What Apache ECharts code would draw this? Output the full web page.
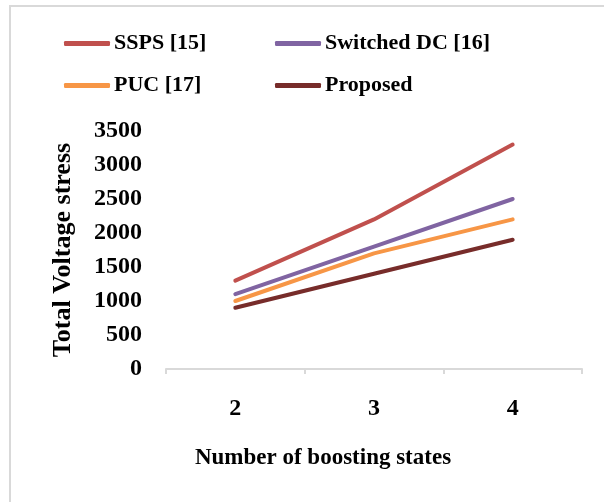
<!DOCTYPE html>
<html>
<head>
<meta charset="utf-8">
<script src="https://cdn.jsdelivr.net/npm/echarts@6/dist/echarts.min.js"></script>
<style>
html,body{margin:0;padding:0;background:#fff;}
#chart{width:604px;height:502px;}
</style>
</head>
<body>
<div id="chart"></div>
<script>
const categories = ['2', '3', '4'];
const ssps = [1300, 2200, 3300];
const switchedDC = [1100, 1800, 2500];
const puc = [1000, 1700, 2200];
const proposed = [900, 1400, 1900];
const seriesNames = ['SSPS [15]', 'Switched DC [16]', 'PUC [17]', 'Proposed'];
const colors = ['#C0504D', '#8064A2', '#F79646', '#772C2A'];
const yMin = 0, yMax = 3500, yInterval = 500;

const FONT = "'Liberation Serif', 'Times New Roman', serif";
const chart = echarts.init(document.getElementById('chart'));
const values = [ssps, switchedDC, puc, proposed];

const legendCommon = {
  orient: 'vertical',
  top: 32,
  padding: 0,
  icon: 'roundRect',
  itemWidth: 46,
  itemHeight: 5,
  itemGap: 19,
  textStyle: { fontFamily: FONT, fontWeight: 'bold', fontSize: 22, color: '#000', lineHeight: 23, padding: [0,0,0,-1] },
  selectedMode: false
};

chart.setOption({
  animation: false,
  backgroundColor: '#fff',
  graphic: [{
    type: 'rect',
    shape: { x: 10, y: 6, width: 800, height: 700 },
    style: { fill: 'none', stroke: '#d9d9d9', lineWidth: 2 },
    silent: true
  }],
  legend: [
    Object.assign({}, legendCommon, { left: 64, data: [seriesNames[0], seriesNames[2]] }),
    Object.assign({}, legendCommon, { left: 275, data: [seriesNames[1], seriesNames[3]] })
  ],
  grid: { left: 166, right: 22, top: 131, bottom: 133, containLabel: false },
  xAxis: {
    type: 'category',
    data: categories,
    boundaryGap: true,
    name: 'Number of boosting states',
    nameLocation: 'middle',
    nameGap: 78,
    nameTextStyle: { fontFamily: FONT, fontWeight: 'bold', fontSize: 23, color: '#000', padding: [0, 102, 0, 0] },
    axisLine: { show: true, lineStyle: { color: '#d9d9d9', width: 2 } },
    axisTick: { show: true, length: 5, lineStyle: { color: '#d9d9d9', width: 2 } },
    axisLabel: { fontFamily: FONT, fontWeight: 'bold', fontSize: 24, color: '#000', margin: 28 },
    splitLine: { show: false }
  },
  yAxis: {
    type: 'value',
    min: yMin, max: yMax, interval: yInterval,
    name: 'Total Voltage stress',
    nameLocation: 'middle',
    nameGap: 90,
    nameRotate: 90,
    nameTextStyle: { fontFamily: FONT, fontWeight: 'bold', fontSize: 26, color: '#000' },
    axisLine: { show: false },
    axisTick: { show: false },
    splitLine: { show: false },
    axisLabel: { fontFamily: FONT, fontWeight: 'bold', fontSize: 24, color: '#000', margin: 24, formatter: v => String(v) }
  },
  series: seriesNames.map((n, i) => ({
    name: n,
    type: 'line',
    data: values[i],
    symbol: 'none',
    color: colors[i],
    lineStyle: { color: colors[i], width: 4, cap: 'round', join: 'round' },
    z: 10 - i
  }))
});
</script>
</body>
</html>
